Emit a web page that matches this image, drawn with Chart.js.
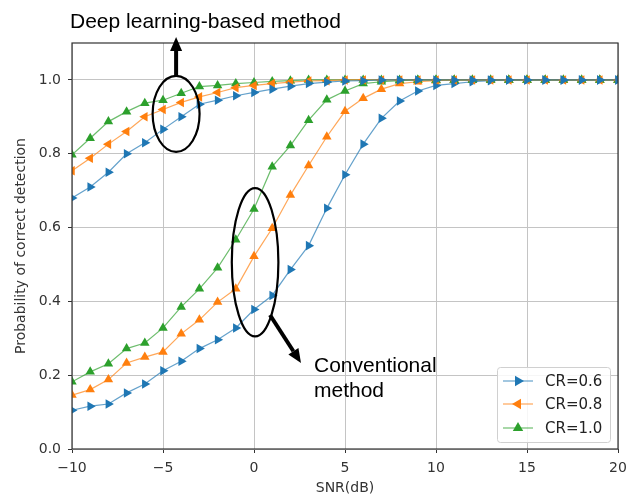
<!DOCTYPE html>
<html>
<head>
<meta charset="utf-8">
<script src="https://cdn.jsdelivr.net/npm/chart.js@4.4.0/dist/chart.umd.min.js"></script>
<style>
  html, body { margin: 0; padding: 0; background: #fff; }
  #wrap { width: 626px; height: 497px; }
</style>
</head>
<body>
<div id="wrap"><canvas id="chart" width="626" height="497"></canvas></div>
<script>
// SNR in dB
const snr = [-10, -9, -8, -7, -6, -5, -4, -3, -2, -1, 0, 1, 2, 3, 4, 5, 6, 7, 8, 9, 10,
             11, 12, 13, 14, 15, 16, 17, 18, 19, 20];

// Deep learning-based method
const dlCR06 = [0.68, 0.71, 0.75, 0.80, 0.83, 0.866, 0.90, 0.934, 0.945, 0.957, 0.966, 0.975, 0.983, 0.99, 0.994,
                0.997, 0.998, 1, 1, 1, 1, 1, 1, 1, 1, 1, 1, 1, 1, 1, 1];
const dlCR08 = [0.754, 0.788, 0.826, 0.86, 0.90, 0.92, 0.939, 0.954, 0.966, 0.979, 0.985, 0.99, 0.994, 0.997, 0.998,
                1, 1, 1, 1, 1, 1, 1, 1, 1, 1, 1, 1, 1, 1, 1, 1];
const dlCR10 = [0.797, 0.842, 0.887, 0.914, 0.937, 0.945, 0.964, 0.982, 0.985, 0.99, 0.993, 0.996, 0.998, 1, 1,
                1, 1, 1, 1, 1, 1, 1, 1, 1, 1, 1, 1, 1, 1, 1, 1];

// Conventional method
const cvCR06 = [0.105, 0.116, 0.122, 0.152, 0.176, 0.212, 0.238, 0.272, 0.296, 0.328, 0.378, 0.416, 0.486, 0.551, 0.652,
                0.743, 0.826, 0.896, 0.943, 0.97, 0.985, 0.99, 0.995, 0.998, 1, 1, 1, 1, 1, 1, 1];
const cvCR08 = [0.146, 0.161, 0.188, 0.233, 0.249, 0.263, 0.312, 0.35, 0.398, 0.434, 0.522, 0.598, 0.688, 0.768, 0.846,
                0.915, 0.95, 0.975, 0.99, 0.995, 0.998, 1, 1, 1, 1, 1, 1, 1, 1, 1, 1];
const cvCR10 = [0.182, 0.209, 0.231, 0.272, 0.287, 0.328, 0.385, 0.434, 0.491, 0.567, 0.65, 0.765, 0.822, 0.891, 0.946,
                0.97, 0.99, 0.995, 0.998, 1, 1, 1, 1, 1, 1, 1, 1, 1, 1, 1, 1];

const xTicks = [-10, -5, 0, 5, 10, 15, 20];
const yTicks = [0.0, 0.2, 0.4, 0.6, 0.8, 1.0];
const legendLabels = ['CR=0.6', 'CR=0.8', 'CR=1.0'];

const BLUE = '#1f77b4', ORANGE = '#ff7f0e', GREEN = '#2ca02c';
const FONT = '"DejaVu Sans", sans-serif';
const NOTE_FONT = '"Liberation Sans", Arial, sans-serif';

const pts = ys => snr.map((x, i) => ({ x: x, y: ys[i] }));

function series(ys, color, rot) {
    return {
        data: pts(ys),
        borderColor: color + 'b0',
        backgroundColor: color,
        pointBackgroundColor: color,
        pointBorderColor: color,
        borderWidth: 1.2,
        pointStyle: 'triangle',
        pointRotation: rot,
        pointRadius: 5.5,
        pointBorderWidth: 0,
        tension: 0
    };
}

// triangle marker for the hand drawn legend
function tri(ctx, x, y, r, rot, color) {
    ctx.save();
    ctx.translate(x, y);
    ctx.rotate(rot * Math.PI / 180);
    ctx.beginPath();
    ctx.moveTo(0, -r);
    ctx.lineTo(r * 0.866, r * 0.5);
    ctx.lineTo(-r * 0.866, r * 0.5);
    ctx.closePath();
    ctx.fillStyle = color;
    ctx.fill();
    ctx.restore();
}

function arrow(ctx, x1, y1, x2, y2) {
    const a = Math.atan2(y2 - y1, x2 - x1);
    const hl = 14, hw = 6;
    const bx = x2 - hl * Math.cos(a), by = y2 - hl * Math.sin(a);
    ctx.save();
    ctx.strokeStyle = '#000';
    ctx.fillStyle = '#000';
    ctx.lineWidth = 4;
    ctx.beginPath();
    ctx.moveTo(x1, y1);
    ctx.lineTo(bx, by);
    ctx.stroke();
    ctx.beginPath();
    ctx.moveTo(x2, y2);
    ctx.lineTo(bx + hw * Math.sin(a), by - hw * Math.cos(a));
    ctx.lineTo(bx - hw * Math.sin(a), by + hw * Math.cos(a));
    ctx.closePath();
    ctx.fill();
    ctx.restore();
}

const decorations = {
    id: 'decorations',
    afterDraw(chart) {
        const ctx = chart.ctx;
        const a = chart.chartArea;
        const xs = chart.scales.x, ys = chart.scales.y;

        // frame
        ctx.save();
        ctx.strokeStyle = '#333';
        ctx.lineWidth = 1.2;
        ctx.strokeRect(a.left, a.top, a.right - a.left, a.bottom - a.top);
        ctx.restore();

        // ellipses
        ctx.save();
        ctx.strokeStyle = '#000';
        ctx.lineWidth = 2.2;
        const ell = (cx, cy, rx, ry) => {
            const px = xs.getPixelForValue(cx), py = ys.getPixelForValue(cy);
            const prx = xs.getPixelForValue(cx + rx) - px;
            const pry = py - ys.getPixelForValue(cy + ry);
            ctx.beginPath();
            ctx.ellipse(px, py, prx, pry, 0, 0, Math.PI * 2);
            ctx.stroke();
        };
        ell(-4.28, 0.908, 1.29, 0.103);
        ell(0.06, 0.506, 1.28, 0.201);
        ctx.restore();

        // arrows
        const dx = xs.getPixelForValue(-4.28);
        arrow(ctx, dx, ys.getPixelForValue(0.908 + 0.103), dx, 37);
        arrow(ctx, 270, 315, 301, 363);

        // notes
        ctx.save();
        ctx.fillStyle = '#000';
        ctx.font = '21px ' + NOTE_FONT;
        ctx.textBaseline = 'alphabetic';
        ctx.fillText('Deep learning-based method', 70, 28);
        ctx.fillText('Conventional', 314, 372);
        ctx.fillText('method', 314, 397);
        ctx.restore();

        // legend
        ctx.save();
        const lx = 497, ly = 367, lw = 113, lh = 75;
        ctx.fillStyle = 'rgba(255,255,255,0.85)';
        ctx.strokeStyle = '#d0d0d0';
        ctx.lineWidth = 1;
        ctx.beginPath();
        ctx.roundRect(lx + 0.5, ly + 0.5, lw, lh, 3);
        ctx.fill();
        ctx.stroke();
        const colors = [BLUE, ORANGE, GREEN];
        const rots = [90, -90, 0];
        const rowY = [381, 404, 428];
        ctx.font = '15px ' + FONT;
        ctx.textBaseline = 'middle';
        legendLabels.forEach((t, i) => {
            ctx.strokeStyle = colors[i] + 'b0';
            ctx.lineWidth = 1.2;
            ctx.beginPath();
            ctx.moveTo(503, rowY[i]);
            ctx.lineTo(533, rowY[i]);
            ctx.stroke();
            tri(ctx, 518, rowY[i], 6, rots[i], colors[i]);
            ctx.fillStyle = '#222';
            ctx.fillText(t, 545, rowY[i] + 1);
        });
        ctx.restore();
    }
};

new Chart(document.getElementById('chart'), {
    type: 'line',
    data: {
        datasets: [
            series(dlCR06, BLUE, 90),
            series(dlCR08, ORANGE, -90),
            series(dlCR10, GREEN, 0),
            series(cvCR06, BLUE, 90),
            series(cvCR08, ORANGE, 0),
            series(cvCR10, GREEN, 0)
        ]
    },
    options: {
        responsive: false,
        animation: false,
        devicePixelRatio: 1,
        layout: { padding: { top: 43, right: 8, left: 0, bottom: 0 } },
        plugins: {
            legend: { display: false },
            tooltip: { enabled: false }
        },
        scales: {
            x: {
                type: 'linear',
                min: -10,
                max: 20,
                afterBuildTicks: s => { s.ticks = xTicks.map(v => ({ value: v })); },
                afterFit: s => { s.height = 48; s.paddingLeft = 0; s.paddingRight = 0; },
                ticks: {
                    font: { family: FONT, size: 14 },
                    color: '#333',
                    padding: 7,
                    maxRotation: 0,
                    callback: v => String(v).replace('-', '\u2212')
                },
                grid: { color: '#c4c4c4', lineWidth: 1, tickLength: 4, tickColor: '#333' },
                border: { display: false },
                title: {
                    display: true,
                    text: 'SNR(dB)',
                    font: { family: FONT, size: 14 },
                    color: '#333',
                    padding: { top: 0, bottom: 0 }
                }
            },
            y: {
                min: 0,
                max: 1.1,
                afterBuildTicks: s => { s.ticks = yTicks.map(v => ({ value: v })); },
                afterFit: s => { s.width = 72; s.paddingTop = 0; s.paddingBottom = 0; },
                ticks: {
                    font: { family: FONT, size: 14 },
                    color: '#333',
                    padding: 7,
                    callback: v => v.toFixed(1)
                },
                grid: { color: '#c4c4c4', lineWidth: 1, tickLength: 4, tickColor: '#333' },
                border: { display: false },
                title: {
                    display: true,
                    text: 'Probability of correct detection',
                    font: { family: FONT, size: 14 },
                    color: '#333',
                    padding: { top: 13, bottom: 0 }
                }
            }
        }
    },
    plugins: [decorations]
});
</script>
</body>
</html>
